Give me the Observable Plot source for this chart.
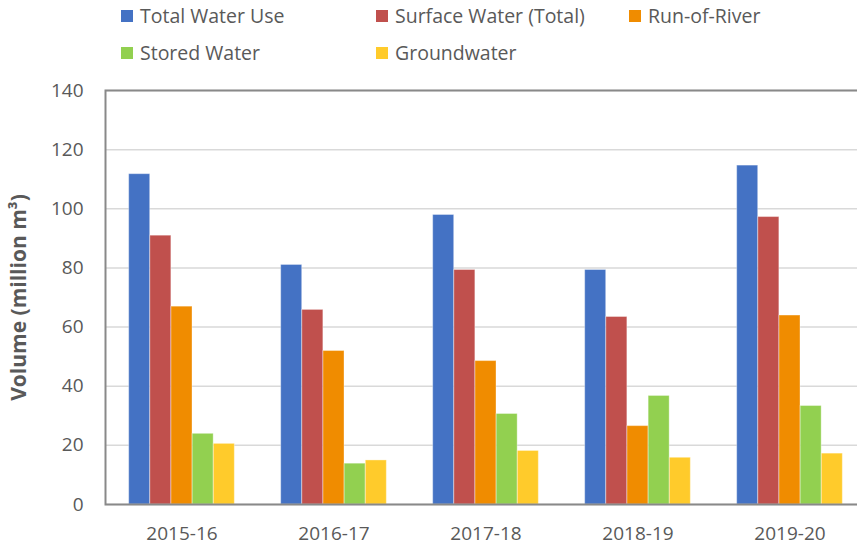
<!DOCTYPE html>
<html>
<head>
<meta charset="utf-8">
<script src="https://cdn.jsdelivr.net/npm/d3@7"></script>
<script src="https://cdn.jsdelivr.net/npm/@observablehq/plot@0.6"></script>
<style>
  html, body { margin: 0; padding: 0; background: #fff; overflow: hidden; width: 857px; height: 548px; }
  #legend { height: 70px; box-sizing: border-box; padding: 6px 0 0 121px;
    display: grid; grid-template-columns: 255px 253px auto; grid-auto-rows: 20px; row-gap: 17px;
    font-family: "Open Sans", sans-serif; font-size: 19.5px; color: #595959; }
  .item { display: flex; align-items: center; line-height: 1; white-space: nowrap; }
  .sw { width: 12px; height: 12px; margin-right: 7px; flex: none; }
  #chart svg { display: block; }
</style>
</head>
<body>
<div id="legend"></div>
<div id="chart"></div>
<script>
const years = ["2015-16", "2016-17", "2017-18", "2018-19", "2019-20"];
const series = ["Total Water Use", "Surface Water (Total)", "Run-of-River", "Stored Water", "Groundwater"];
const totalWaterUse = [111.7, 81.0, 97.9, 79.3, 114.6];
const surfaceWater  = [90.9, 65.8, 79.3, 63.4, 97.2];
const runOfRiver    = [66.9, 51.9, 48.5, 26.5, 63.9];
const storedWater   = [23.9, 13.8, 30.6, 36.7, 33.3];
const groundwater   = [20.5, 14.9, 18.1, 15.8, 17.2];
const yTicks = [0, 20, 40, 60, 80, 100, 120, 140];
const colors = ["#4472C4", "#C0504D", "#F08C00", "#92D050", "#FFCB2B"];
const yTitle = "Volume (million m³)";

const valuesBySeries = [totalWaterUse, surfaceWater, runOfRiver, storedWater, groundwater];
const table = [];
series.forEach((s, i) => years.forEach((y, j) => table.push({series: s, year: y, value: valuesBySeries[i][j]})));

// legend
const legend = document.getElementById("legend");
series.forEach((s, i) => {
  const it = document.createElement("div");
  it.className = "item";
  it.innerHTML = `<span class="sw" style="background:${colors[i]}"></span><span>${s}</span>`;
  legend.appendChild(it);
});

const width = 857, height = 478;
const marginLeft = 105, marginRight = -9;
const groupFrac = 0.695;
const paddingInner = 1 - groupFrac / 5;
const paddingOuter = 0.5 - groupFrac / 10;
const step = (width - marginRight - marginLeft) / years.length;
const bw = step * groupFrac / 5;

const plot = Plot.plot({
  width, height,
  marginLeft, marginRight, marginTop: 20, marginBottom: 44,
  style: {fontFamily: "Open Sans, sans-serif", fontSize: "19px", color: "#595959", background: "#fff"},
  x: {type: "band", domain: years, paddingInner, paddingOuter, align: 0.5, tickSize: 0, tickPadding: 22, label: null},
  y: {domain: [0, 140], ticks: yTicks, tickSize: 0, tickPadding: 22, label: null},
  marks: [
    Plot.ruleY(yTicks, {stroke: "#d9d9d9", strokeWidth: 1.5}),
    ...series.map((s, i) => Plot.barY(table.filter(d => d.series === s), {
      x: "year", y: "value", fill: colors[i], dx: (i - 2) * bw,
      stroke: "#ffffff", strokeOpacity: 0.35, strokeWidth: 1
    })),
    Plot.frame({stroke: "#898989", strokeWidth: 2}),
    Plot.text([yTitle], {frameAnchor: "left", dx: -86, rotate: -90, text: d => d,
      fontWeight: "bold", fontSize: 21, fill: "#595959", textAnchor: "middle"})
  ]
});
document.getElementById("chart").appendChild(plot);
</script>
</body>
</html>
